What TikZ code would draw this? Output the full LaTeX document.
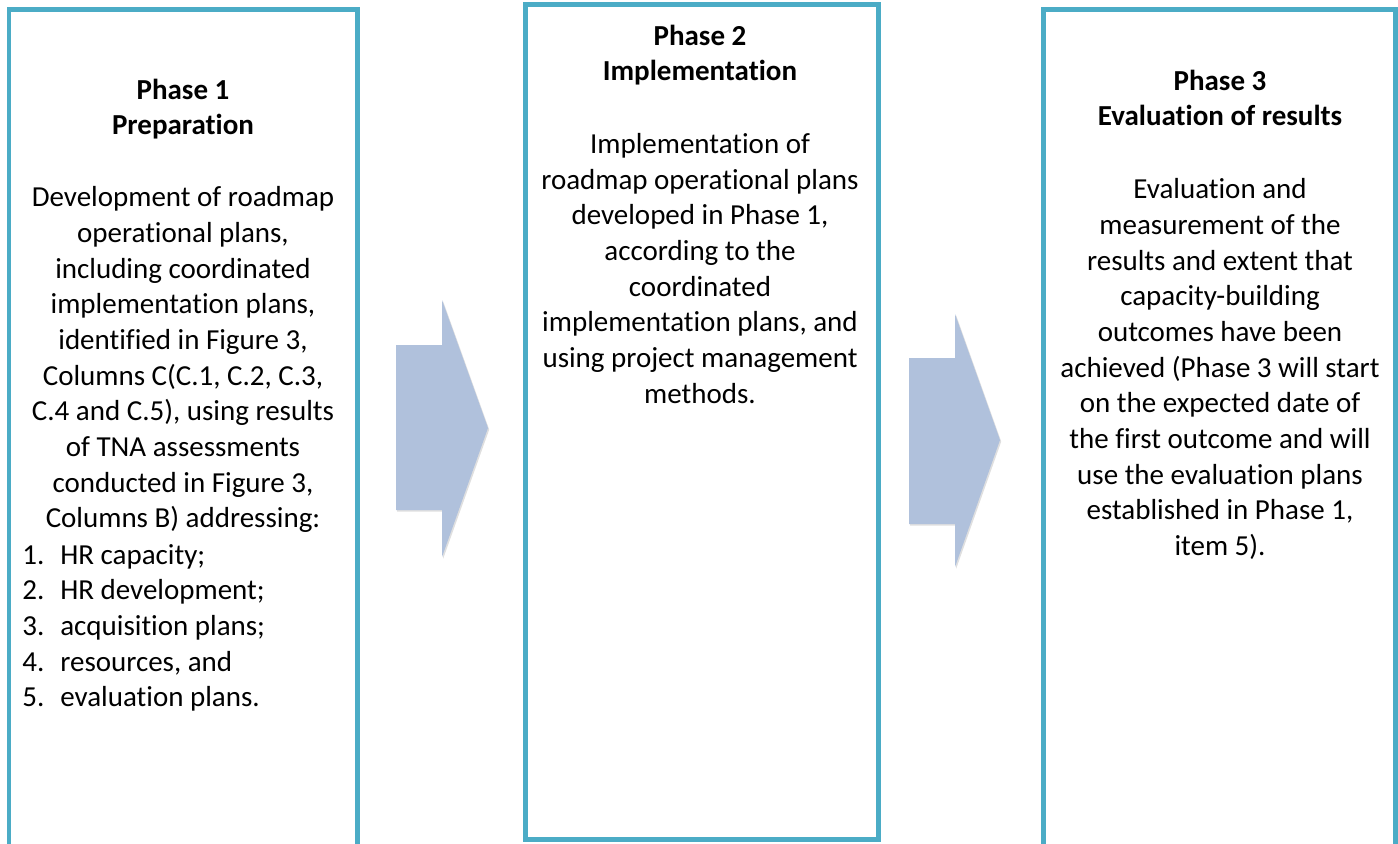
\documentclass[tikz,border=0pt]{standalone}
\usepackage{fontspec}
\setmainfont{Carlito}[Ligatures=NoCommon]
\usetikzlibrary{shadows}
\definecolor{boxblue}{RGB}{75,172,198}
\definecolor{arrowblue}{RGB}{176,193,220}
\tikzset{
	phasebox/.style={draw=boxblue, line width=0.1cm},
	blockarrow/.style={fill=arrowblue, drop shadow={opacity=0.25, shadow xshift=0.7pt, shadow yshift=-0.9pt}},
	phasetext/.style={align=center, inner sep=0pt, anchor=base, font=\fontsize{16.5}{20.3}\selectfont},
}

\begin{document}
\begin{tikzpicture}[x=0.02cm, y=-0.02cm]
	\useasboundingbox (0,0) rectangle (1398,844);
	\clip (0,0) rectangle (1398,844);
	%BOXES
	\draw[phasebox] (9,10) rectangle (357,900);
	\draw[phasebox] (525,5) rectangle (878,839);
	\draw[phasebox] (1043,10) rectangle (1395,900);
	
	%ARROWS
	\fill[blockarrow] (396,345) -- (442,345) -- (442,300) -- (488,428) -- (442,557) -- (442,510) -- (396,510) -- cycle;
	\fill[blockarrow] (909,358) -- (955,358) -- (955,314) -- (1000,440) -- (955,567) -- (955,524) -- (909,524) -- cycle;
	
	%PHASE 1 (base = last line)
	\node[phasetext] (title1) at (183,134.8) {\textbf{Phase 1}\\\textbf{Preparation}};
	\node[phasetext] (body1) at (183,527.7) {Development of roadmap\\operational plans,\\including coordinated\\implementation plans,\\identified in Figure 3,\\Columns C(C.1, C.2, C.3,\\C.4 and C.5), using results\\of TNA assessments\\conducted in Figure 3,\\Columns B) addressing:};
	\node[phasetext, anchor=base west, align=left] (list1) at (22,706.7) {\makebox[0.76cm][l]{1.}HR capacity;\\\makebox[0.76cm][l]{2.}HR development;\\\makebox[0.76cm][l]{3.}acquisition plans;\\\makebox[0.76cm][l]{4.}resources, and\\\makebox[0.76cm][l]{5.}evaluation plans.};
	%
	%PHASE 2
	\node[phasetext] (title2) at (700,80.8) {\textbf{Phase 2}\\\textbf{Implementation}};
	\node[phasetext] (body2) at (700,403) {Implementation of\\roadmap operational plans\\developed in Phase 1,\\according to the\\coordinated\\implementation plans, and\\using project management\\methods.};
	%
	%PHASE 3
	\node[phasetext] (title3) at (1220,125.8) {\textbf{Phase 3}\\\textbf{Evaluation of results}};
	\node[phasetext] (body3) at (1220,555.4) {Evaluation and\\measurement of the\\results and extent that\\capacity-building\\outcomes have been\\achieved (Phase 3 will start\\on the expected date of\\the first outcome and will\\use the evaluation plans\\established in Phase 1,\\item 5).};
\end{tikzpicture}
\end{document}
